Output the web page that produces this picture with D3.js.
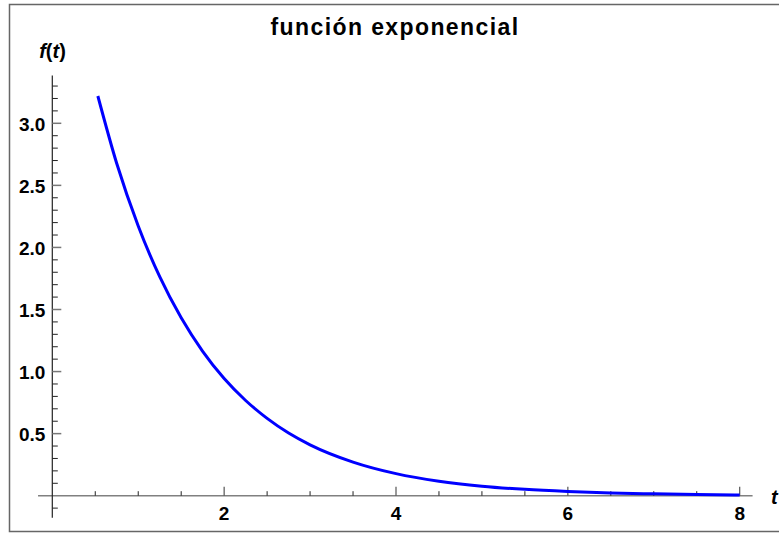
<!DOCTYPE html>
<html>
<head>
<meta charset="utf-8">
<script src="https://cdn.jsdelivr.net/npm/d3@7"></script>
<style>
  body { margin: 0; background: #fff; }
  svg { display: block; font-family: "Liberation Sans", Arial, sans-serif; }
</style>
</head>
<body>
<svg id="chart" width="779" height="533"></svg>
<script>
const title = "función exponencial";
const xLabel = "t";

// values
const tValues = [0.53, 0.75, 1.0, 1.25, 1.5, 1.75, 2.0, 2.25, 2.5, 2.75, 3.0, 3.5, 4.0, 4.5, 5.0, 5.5, 6.0, 6.5, 7.0, 7.5, 8.0];
const fValues = [3.22, 2.676, 2.173, 1.764, 1.433, 1.163, 0.944, 0.767, 0.623, 0.505, 0.410, 0.271, 0.178, 0.117, 0.077, 0.051, 0.034, 0.022, 0.015, 0.0097, 0.006];

const xMajor = [2, 4, 6, 8];
const xMinor = [0.5, 1, 1.5, 2.5, 3, 3.5, 4.5, 5, 5.5, 6.5, 7, 7.5];
const yMajor = [0.5, 1.0, 1.5, 2.0, 2.5, 3.0];
const yMinor = [-0.1, 0.1, 0.2, 0.3, 0.4, 0.6, 0.7, 0.8, 0.9, 1.1, 1.2, 1.3, 1.4, 1.6, 1.7, 1.8, 1.9, 2.1, 2.2, 2.3, 2.4, 2.6, 2.7, 2.8, 2.9, 3.1, 3.2, 3.3];

const svg = d3.select("#chart");

// frame
svg.append("rect")
  .attr("x", 9.5).attr("y", 4.5)
  .attr("width", 800).attr("height", 527)
  .attr("fill", "none")
  .attr("stroke", "#666")
  .attr("stroke-width", 1.5);

const x = d3.scaleLinear().domain([0, 8]).range([52.3, 739.7]);
const y = d3.scaleLinear().domain([0, 3]).range([495.7, 123.3]);

const tickFont = 19;

// x axis line
svg.append("line")
  .attr("x1", x(-0.166)).attr("x2", x(8.15))
  .attr("y1", y(0)).attr("y2", y(0))
  .attr("stroke", "#808080").attr("stroke-width", 1.5);

// y axis line
svg.append("line")
  .attr("x1", x(0)).attr("x2", x(0))
  .attr("y1", y(3.385)).attr("y2", y(-0.177))
  .attr("stroke", "#222").attr("stroke-width", 1.2);

// x ticks
svg.append("g").selectAll("line")
  .data(xMinor).join("line")
  .attr("x1", d => x(d)).attr("x2", d => x(d))
  .attr("y1", y(0)).attr("y2", y(0) - 4.5)
  .attr("stroke", "#222").attr("stroke-width", 1);

svg.append("g").selectAll("line")
  .data(xMajor).join("line")
  .attr("x1", d => x(d)).attr("x2", d => x(d))
  .attr("y1", y(0)).attr("y2", y(0) - 9)
  .attr("stroke", "#555").attr("stroke-width", 1.2);

svg.append("g").selectAll("text")
  .data(xMajor).join("text")
  .attr("x", d => x(d)).attr("y", y(0) + 24.5)
  .attr("text-anchor", "middle")
  .attr("font-size", tickFont).attr("font-weight", "bold")
  .text(d => d3.format("d")(d));

// y ticks
svg.append("g").selectAll("line")
  .data(yMinor).join("line")
  .attr("x1", x(0)).attr("x2", x(0) + 5.5)
  .attr("y1", d => y(d)).attr("y2", d => y(d))
  .attr("stroke", "#222").attr("stroke-width", 1);

svg.append("g").selectAll("line")
  .data(yMajor).join("line")
  .attr("x1", x(0)).attr("x2", x(0) + 9)
  .attr("y1", d => y(d)).attr("y2", d => y(d))
  .attr("stroke", "#777").attr("stroke-width", 1.5);

svg.append("g").selectAll("text")
  .data(yMajor).join("text")
  .attr("x", x(0) - 7).attr("y", d => y(d) + 7.2)
  .attr("text-anchor", "end")
  .attr("font-size", tickFont).attr("font-weight", "bold")
  .text(d => d3.format(".1f")(d));

// curve
const pts = tValues.map((t, i) => [t, fValues[i]]);
svg.append("path")
  .datum(pts)
  .attr("fill", "none")
  .attr("stroke", "#0000ff")
  .attr("stroke-width", 3)
  .attr("d", d3.line().x(d => x(d[0])).y(d => y(d[1])).curve(d3.curveMonotoneX));

// labels
svg.append("text")
  .attr("x", 395).attr("y", 35)
  .attr("text-anchor", "middle")
  .attr("font-size", 23).attr("font-weight", "bold")
  .attr("letter-spacing", 1.4)
  .text(title);

const yl = svg.append("text")
  .attr("x", 52.5).attr("y", 58)
  .attr("text-anchor", "middle")
  .attr("font-size", 20).attr("font-weight", "bold");
yl.append("tspan").attr("font-style", "italic").text("f");
yl.append("tspan").text("(");
yl.append("tspan").attr("font-style", "italic").text("t");
yl.append("tspan").text(")");

svg.append("text")
  .attr("x", 771).attr("y", 503.5)
  .attr("font-size", 20).attr("font-weight", "bold").attr("font-style", "italic")
  .text(xLabel);
</script>
</body>
</html>
